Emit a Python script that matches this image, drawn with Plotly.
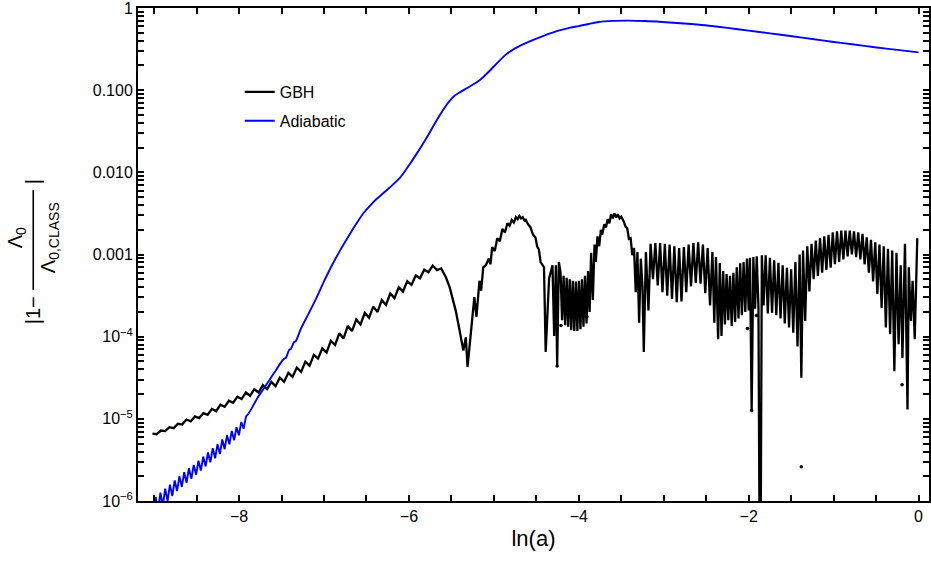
import plotly.graph_objects as go

# ---------------- data ----------------
gbh_x = [
    -9.02, -8.97, -8.92, -8.87, -8.82, -8.77, -8.72, -8.67, -8.62, -8.57,
    -8.52, -8.47, -8.42, -8.37, -8.32, -8.27, -8.22, -8.17, -8.12, -8.07,
    -8.02, -7.97, -7.92, -7.87, -7.82, -7.77, -7.72, -7.67, -7.62, -7.57,
    -7.52, -7.47, -7.42, -7.37, -7.32, -7.27, -7.22, -7.17, -7.12, -7.07,
    -7.02, -6.97, -6.92, -6.87, -6.82, -6.77, -6.72, -6.67, -6.62, -6.57,
    -6.52, -6.47, -6.42, -6.37, -6.32, -6.27, -6.22, -6.17, -6.12, -6.07,
    -6.02, -5.97, -5.92, -5.87, -5.82, -5.77, -5.72, -5.67, -5.62,
    -5.565, -5.52, -5.49, -5.45, -5.41, -5.36, -5.33, -5.31, -5.28, -5.25,
    -5.23, -5.205, -5.17, -5.15, -5.125, -5.095, -5.06, -5.04, -5.02, -4.99,
    -4.96, -4.93, -4.90, -4.87, -4.84, -4.815, -4.79, -4.765, -4.74, -4.72,
    -4.70, -4.68, -4.66, -4.64, -4.625, -4.60, -4.57, -4.54, -4.51, -4.49,
    -4.47, -4.45, -4.41, -4.39, -4.35, -4.31, -4.29, -4.27, -4.255, -4.235,
    -4.215, -4.197, -4.179, -4.161, -4.143, -4.125, -4.107, -4.089, -4.071, -4.053,
    -4.035, -4.017, -3.999, -3.981, -3.963, -3.945, -3.927, -3.909, -3.891, -3.873,
    -3.855, -3.835, -3.815, -3.80, -3.78, -3.76, -3.74, -3.725, -3.70, -3.68,
    -3.66, -3.64, -3.62, -3.60, -3.58, -3.56, -3.54, -3.52, -3.50, -3.47,
    -3.45, -3.43, -3.41, -3.39, -3.37, -3.35, -3.33, -3.31, -3.29, -3.27,
    -3.25, -3.235, -3.21, -3.18, -3.155,
    -3.127, -3.099, -3.071, -3.043, -3.015, -2.987, -2.959, -2.931, -2.903, -2.875,
    -2.847, -2.819, -2.791, -2.763, -2.735, -2.707, -2.679, -2.651, -2.623, -2.595,
    -2.567, -2.539, -2.511, -2.483, -2.455, -2.427, -2.405, -2.385, -2.36, -2.34,
    -2.32, -2.30, -2.28, -2.26, -2.24, -2.22, -2.20, -2.18, -2.16, -2.14,
    -2.12, -2.10, -2.08, -2.06, -2.04, -2.02, -2.00, -1.985, -1.965, -1.945,
    -1.925, -1.905, -1.885, -1.865, -1.845, -1.825, -1.80,
    -1.775, -1.750, -1.725, -1.700, -1.675, -1.650, -1.625, -1.600, -1.575, -1.550,
    -1.525, -1.500, -1.475, -1.450, -1.425, -1.400, -1.380, -1.360, -1.335, -1.310,
    -1.285, -1.260, -1.235, -1.210, -1.185, -1.160, -1.135, -1.110, -1.085, -1.060,
    -1.035, -1.010, -0.985, -0.960, -0.935, -0.910, -0.885, -0.860, -0.835, -0.810,
    -0.785, -0.760, -0.735, -0.710, -0.685, -0.660, -0.635, -0.610, -0.585, -0.560,
    -0.535, -0.510, -0.485, -0.460, -0.435, -0.410, -0.385, -0.360, -0.335, -0.310,
    -0.285, -0.260, -0.235, -0.210, -0.190, -0.160, -0.130, -0.115, -0.090, -0.070,
    -0.045, -0.015,
]
gbh_y = [
    6.6e-6, 6.5e-6, 7.2e-6, 7.1e-6, 7.9e-6, 7.7e-6, 8.7e-6, 8.5e-6, 9.8e-6, 9.3e-6,
    1.07e-5, 1.02e-5, 1.17e-5, 1.12e-5, 1.32e-5, 1.24e-5, 1.48e-5, 1.40e-5, 1.66e-5, 1.57e-5,
    1.86e-5, 1.74e-5, 2.09e-5, 1.91e-5, 2.29e-5, 2.09e-5, 2.57e-5, 2.29e-5, 2.82e-5, 2.51e-5,
    3.16e-5, 2.82e-5, 3.63e-5, 3.24e-5, 4.22e-5, 3.72e-5, 4.95e-5, 4.42e-5, 6.0e-5, 5.4e-5,
    7.2e-5, 6.4e-5, 8.9e-5, 7.9e-5, 1.10e-4, 9.5e-5, 1.35e-4, 1.17e-4, 1.62e-4, 1.41e-4,
    1.95e-4, 1.70e-4, 2.32e-4, 2.00e-4, 2.79e-4, 2.43e-4, 3.35e-4, 2.95e-4, 3.98e-4, 3.55e-4,
    4.73e-4, 4.27e-4, 5.56e-4, 5.13e-4, 6.53e-4, 6.1e-4, 7.33e-4, 6.46e-4, 6.76e-4,
    5.28e-4, 3.98e-4, 3.02e-4, 2.09e-4, 1.29e-4, 6.8e-5, 9.8e-5, 4.27e-5, 8.9e-5, 1.74e-4,
    3.02e-4, 1.74e-4, 4.79e-4, 3.63e-4, 7.0e-4, 7.4e-4, 8.9e-4, 7.6e-4, 1.23e-3, 1.10e-3,
    1.58e-3, 1.45e-3, 2.04e-3, 1.86e-3, 2.40e-3, 2.24e-3, 2.63e-3, 2.45e-3, 2.85e-3, 2.70e-3,
    2.95e-3, 2.75e-3, 2.85e-3, 2.60e-3, 2.65e-3, 2.35e-3, 2.15e-3, 1.75e-3, 1.60e-3, 1.25e-3,
    1.15e-3, 8.1e-4, 7.0e-4, 6.5e-5, 5.1e-4, 7.4e-4, 1.02e-4, 7.4e-4, 4.5e-5, 8.1e-4,
    6.0e-4, 1.58e-4, 5.5e-4, 1.38e-4, 5.2e-4, 1.32e-4, 5.0e-4, 1.20e-4, 4.8e-4, 1.17e-4,
    4.7e-4, 1.17e-4, 4.8e-4, 1.23e-4, 5.0e-4, 1.32e-4, 5.5e-4, 1.45e-4, 6.3e-4, 2.00e-4,
    1.05e-3, 2.8e-4, 1.32e-3, 8.1e-4, 1.66e-3, 1.26e-3, 2.0e-3, 1.74e-3, 2.34e-3, 2.14e-3,
    2.69e-3, 2.40e-3, 3.09e-3, 2.75e-3, 3.16e-3, 2.82e-3, 3.09e-3, 2.75e-3, 2.88e-3, 2.51e-3,
    2.19e-3, 2.09e-3, 1.55e-3, 1.58e-3, 9.8e-4, 1.20e-3, 3.47e-4, 1.07e-3, 1.48e-4, 8.9e-4,
    4.0e-4, 6.5e-5, 1.07e-3, 2.09e-4, 1.35e-3,
    5.0e-4, 1.38e-3, 4.2e-4, 1.38e-3, 3.47e-4, 1.35e-3, 3.16e-4, 1.32e-3, 2.88e-4, 1.26e-3,
    2.63e-4, 1.20e-3, 2.69e-4, 1.23e-3, 3.47e-4, 1.32e-3, 4.1e-4, 1.38e-3, 4.5e-4, 1.41e-3,
    4.4e-4, 1.32e-3, 3.39e-4, 1.20e-3, 2.40e-4, 1.07e-3, 1.48e-4, 9.3e-4, 9.3e-5, 7.9e-4,
    1.02e-4, 6.3e-4, 1.41e-4, 5.8e-4, 1.58e-4, 5.5e-4, 1.35e-4, 6.0e-4, 1.51e-4, 7.0e-4,
    1.66e-4, 7.8e-4, 1.82e-4, 8.1e-4, 2.0e-4, 8.9e-4, 2.09e-4, 9.1e-4, 1.26e-5, 9.3e-4,
    2.19e-4, 9.5e-4, 2.29e-4, 1e-8, 9.8e-4, 2.40e-4, 9.8e-4,
    1.91e-4, 9.1e-4, 1.95e-4, 8.5e-4, 1.82e-4, 7.9e-4, 1.66e-4, 7.4e-4, 1.45e-4, 6.9e-4,
    1.29e-4, 6.6e-4, 1.12e-4, 8.1e-4, 7.6e-5, 1.0e-3, 3.16e-5, 1.12e-3, 1.55e-4, 1.26e-3,
    3.55e-4, 1.35e-3, 5.0e-4, 1.48e-3, 5.5e-4, 1.58e-3, 6.0e-4, 1.66e-3, 6.5e-4, 1.74e-3,
    6.9e-4, 1.86e-3, 7.6e-4, 1.91e-3, 8.1e-4, 1.95e-3, 8.7e-4, 1.95e-3, 9.5e-4, 1.95e-3,
    1.0e-3, 1.91e-3, 9.3e-4, 1.86e-3, 8.7e-4, 1.78e-3, 7.6e-4, 1.62e-3, 6.0e-4, 1.51e-3,
    4.7e-4, 1.41e-3, 3.3e-4, 1.32e-3, 2.24e-4, 1.26e-3, 1.29e-4, 1.17e-3, 1.07e-4, 1.12e-3,
    3.8e-5, 1.05e-3, 8.1e-5, 7.4e-4, 5.5e-5, 1.35e-3, 1.30e-5, 7.0e-4, 1.55e-4, 4.8e-4,
    9.3e-5, 1.58e-3,
]
gbh_dot_x = [-4.255, -4.21, -3.905, -2.014, -1.965, -1.908, -1.38, -0.194]
gbh_dot_y = [4.4e-5, 1.37e-4, 1.76e-4, 1.26e-4, 1.26e-5, 1.81e-4, 2.6e-6, 2.6e-5]

# Adiabatic: oscillating early part, then the smooth part
adia_osc_x = [
    -9.010, -8.982, -8.954, -8.926, -8.898, -8.870, -8.842, -8.814, -8.786, -8.758,
    -8.730, -8.702, -8.674, -8.646, -8.618, -8.590, -8.562, -8.534, -8.506, -8.478,
    -8.450, -8.422, -8.394, -8.366, -8.338, -8.310, -8.282, -8.254, -8.226, -8.198,
    -8.170, -8.142, -8.114, -8.086, -8.058, -8.030, -8.002, -7.974, -7.946, -7.918,
    -7.89,
]
adia_osc_y = [
    7.1e-7, 1.12e-6, 7.6e-7, 1.26e-6, 8.7e-7, 1.41e-6, 1.0e-6, 1.58e-6, 1.15e-6, 1.78e-6,
    1.32e-6, 2.0e-6, 1.48e-6, 2.24e-6, 1.66e-6, 2.51e-6, 1.86e-6, 2.75e-6, 2.09e-6, 3.09e-6,
    2.34e-6, 3.47e-6, 2.63e-6, 3.89e-6, 2.95e-6, 4.4e-6, 3.31e-6, 4.9e-6, 3.72e-6, 5.6e-6,
    4.27e-6, 6.3e-6, 4.9e-6, 7.1e-6, 5.5e-6, 7.9e-6, 6.3e-6, 9.1e-6, 7.6e-6, 1.07e-5,
    1.15e-5,
]
adia_x = [
    -7.89, -7.85, -7.78, -7.70, -7.625, -7.56, -7.51, -7.47, -7.45, -7.41,
    -7.39, -7.355, -7.33, -7.275, -7.18, -7.09, -7.00, -6.90, -6.80, -6.70,
    -6.62, -6.545, -6.46, -6.385, -6.30, -6.23, -6.11, -5.995, -5.92, -5.84,
    -5.76, -5.68, -5.60, -5.525, -5.46, -5.41, -5.31, -5.21, -5.13, -5.055,
    -4.96, -4.86, -4.76, -4.665, -4.55, -4.43, -4.31, -4.195, -4.10, -4.00,
    -3.88, -3.765, -3.60, -3.41, -3.22, -3.02, -2.76, -2.51, -2.25, -2.00,
    -1.75, -1.49, -1.25, -1.02, -0.76, -0.515, -0.25, 0.0,
]
adia_y = [
    1.15e-5, 1.35e-5, 1.82e-5, 2.40e-5, 3.16e-5, 3.98e-5, 4.8e-5, 5.4e-5, 5.5e-5, 6.9e-5,
    7.1e-5, 8.5e-5, 8.9e-5, 1.23e-4, 1.92e-4, 2.95e-4, 4.7e-4, 7.6e-4, 1.17e-3, 1.74e-3,
    2.36e-3, 3.09e-3, 3.9e-3, 4.7e-3, 5.6e-3, 6.5e-3, 8.5e-3, 1.24e-2, 1.62e-2, 2.19e-2,
    3.0e-2, 4.2e-2, 5.7e-2, 7.3e-2, 8.6e-2, 9.3e-2, 0.107, 0.123, 0.143, 0.170,
    0.215, 0.271, 0.318, 0.359, 0.405, 0.453, 0.502, 0.546, 0.578, 0.603,
    0.640, 0.676, 0.697, 0.703, 0.694, 0.676, 0.648, 0.617, 0.574, 0.531,
    0.492, 0.453, 0.420, 0.389, 0.360, 0.333, 0.310, 0.289,
]

series_names = ["GBH", "Adiabatic"]
y_major_vals = [1e-6, 1e-5, 1e-4, 1e-3, 1e-2, 1e-1, 1]
y_major_text = ["10<sup>−6</sup>", "10<sup>−5</sup>", "10<sup>−4</sup>", "0.001", "0.010", "0.100", "1"]
x_major_vals = [-8, -6, -4, -2, 0]
x_major_text = ["−8", "−6", "−4", "−2", "0"]
x_minor_step = 0.5

# tick positions (majors labelled, minors blank)
y_tick_vals, y_tick_text = [], []
for v, t in zip(y_major_vals, y_major_text):
    y_tick_vals.append(v)
    y_tick_text.append(t)
    if v < 1:
        for k in range(2, 10):
            y_tick_vals.append(k * v)
            y_tick_text.append("")
x_tick_vals, x_tick_text = [], []
for i in range(19):
    xv = -9.0 + i * x_minor_step
    x_tick_vals.append(xv)
    x_tick_text.append(x_major_text[x_major_vals.index(int(xv))] if xv in x_major_vals else "")

# ---------------- layout geometry ----------------
W, H = 931, 567
ML, MR, MT, MB = 138, 0, 8, 66
PW, PH = W - ML - MR, H - MT - MB
FONT = "Liberation Sans, Arial, sans-serif"


def px(xp):
    return (xp - ML) / PW


def py(yp):
    return (H - MB - yp) / PH


fig = go.Figure()
fig.add_trace(go.Scatter(x=gbh_x, y=gbh_y, mode="lines", name=series_names[0],
                         line=dict(color="black", width=2.3), legendgroup="a"))
fig.add_trace(go.Scatter(x=gbh_dot_x, y=gbh_dot_y, mode="markers", showlegend=False,
                         legendgroup="a", marker=dict(color="black", size=3.5)))
fig.add_trace(go.Scatter(x=adia_osc_x, y=adia_osc_y, mode="lines", showlegend=False,
                         legendgroup="b", line=dict(color="#0000ff", width=1.9)))
fig.add_trace(go.Scatter(x=adia_x, y=adia_y, mode="lines", name=series_names[1],
                         legendgroup="b",
                         line=dict(color="#0000ff", width=1.9, shape="spline", smoothing=0.8)))

tick_font = dict(family=FONT, size=16, color="black")
fig.update_layout(
    width=W, height=H,
    margin=dict(l=ML, r=MR, t=MT, b=MB, pad=0),
    paper_bgcolor="white", plot_bgcolor="white",
    showlegend=True,
    legend=dict(x=px(240), y=py(75), xanchor="left", yanchor="top",
                font=dict(family=FONT, size=16, color="black"),
                bgcolor="rgba(0,0,0,0)", tracegroupgap=5, itemwidth=30),
    xaxis=dict(range=[-9.19, 0.123], showgrid=False, zeroline=False,
               showline=True, linecolor="black", linewidth=2, mirror="allticks",
               ticks="inside", ticklen=6, tickwidth=1.5, tickcolor="black",
               tickmode="array", tickvals=x_tick_vals, ticktext=x_tick_text,
               tickfont=tick_font,
               title=dict(text="ln(a)", font=dict(family=FONT, size=22, color="black"),
                          standoff=6)),
    yaxis=dict(type="log", range=[-6.0005, 0.0005], showgrid=False, zeroline=False,
               showline=True, linecolor="black", linewidth=2, mirror="allticks",
               ticks="inside", ticklen=6, tickwidth=1.5, tickcolor="black",
               tickmode="array", tickvals=y_tick_vals, ticktext=y_tick_text,
               tickfont=tick_font, ticklabeloverflow="allow"),
)

# y-axis title: |1 - Λ0 / Λ0,CLASS|  (rotated)
tfont = dict(family=FONT, size=20, color="black")
ann = [
    dict(text="|1−", x=px(33), y=py(310)),
    dict(text="Λ<sub>0</sub>", x=px(17), y=py(238)),
    dict(text="Λ<sub>0,CLASS</sub>", x=px(50), y=py(238)),
    dict(text="|", x=px(33), y=py(182)),
]
for a in ann:
    fig.add_annotation(xref="paper", yref="paper", showarrow=False, textangle=-90,
                       xanchor="center", yanchor="middle", font=tfont, **a)
fig.add_shape(type="line", xref="paper", yref="paper",
              x0=px(33), x1=px(33), y0=py(190), y1=py(290),
              line=dict(color="black", width=1.6))

fig.write_html("out.html")
